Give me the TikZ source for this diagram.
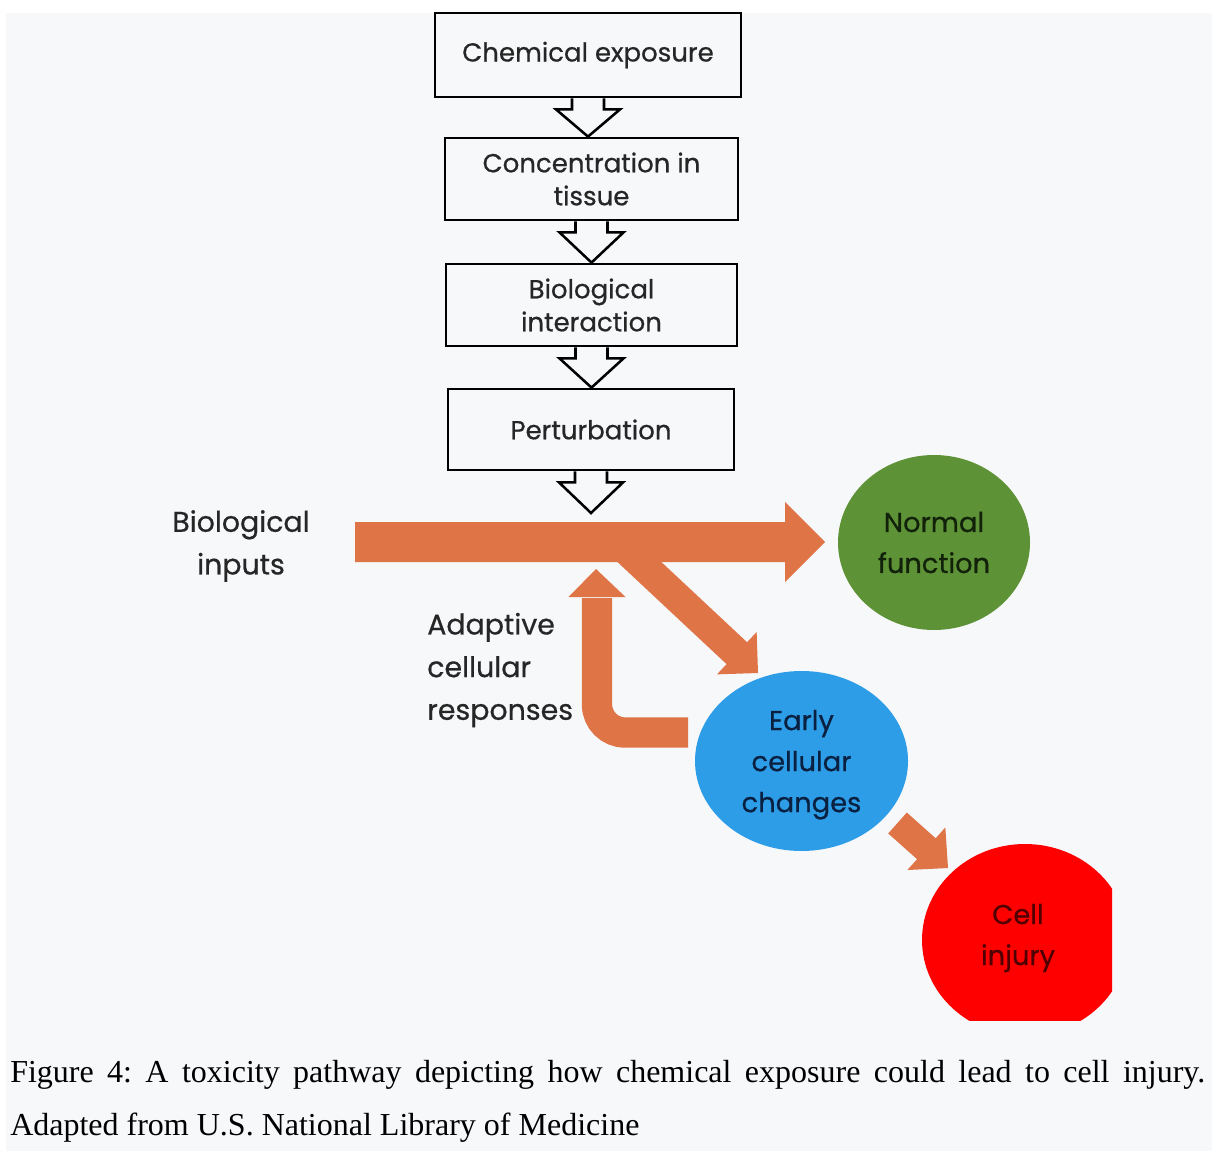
\documentclass[tikz,border=0pt]{standalone}
\usepackage{fontspec}
\newfontfamily\gothic[FakeBold=0.6]{Poppins}
\newfontfamily\capfont{Liberation Serif}
\usetikzlibrary{shapes.geometric,calc}
\definecolor{bg}{HTML}{F7F8FA}
\definecolor{orangeA}{RGB}{223,116,70}
\definecolor{greenN}{RGB}{94,146,55}
\definecolor{blueE}{RGB}{46,157,232}
\definecolor{redC}{RGB}{255,0,0}
\definecolor{txt}{RGB}{38,38,38}
\definecolor{gtxt}{RGB}{18,34,10}
\definecolor{btxt}{RGB}{10,32,64}
\definecolor{rtxt}{RGB}{80,0,0}
% #1 start, #2 tip, #3 half shaft, #4 head length, #5 half head
\newcommand\fatarrow[5]{%
  \path (#1) coordinate (fatS) (#2) coordinate (fatT);
  \path ($(fatT)!#4!(fatS)$) coordinate (fatH);
  \fill[orangeA] ($(fatS)!#3!90:(fatT)$) -- ($(fatH)!#3!-90:(fatS)$) -- ($(fatH)!#5!-90:(fatS)$) -- (fatT)
    -- ($(fatH)!#5!90:(fatS)$) -- ($(fatH)!#3!90:(fatS)$) -- ($(fatS)!#3!-90:(fatT)$) -- cycle;}
% hollow chevron arrow from box #1 down to point #2
\newcommand\hollowarr[2]{%
  \draw[hollow] ($(#1.south)+(-16,0)$) -- ++(0,11) -- ++(-16,0) -- (#1.south |- #2)
    -- ($(#1.south)+(32,11)$) -- ++(-16,0) -- ++(0,-11);}
\begin{document}
\begin{tikzpicture}[x=0.75pt,y=-0.75pt,
  stepbox/.style={draw=black, line width=2.1pt, minimum height=61.5pt, inner sep=0pt,
    align=center, font=\gothic\fontsize{19.5}{24.75}\selectfont, text=txt},
  hollow/.style={draw=black, line width=1.9pt, line join=miter},
  blob/.style={ellipse, inner sep=0pt, align=center, font=\gothic\fontsize{20.5}{30.75}\selectfont},
  lbl/.style={inner sep=0pt, font=\gothic\fontsize{21.3}{32}\selectfont, text=txt}]
\fill[white] (0,0) rectangle (1212,1151);
\fill[bg] (6,13) rectangle (1212,1151);
\useasboundingbox (0,0) rectangle (1212,1151);

% process boxes
\node[stepbox, minimum width=229.5pt, minimum height=63pt] (b1) at (588,55) {Chemical exposure};
\node[stepbox, minimum width=219.75pt] (b2) at (591.5,179) {Concentration in\\tissue};
\node[stepbox, minimum width=218.25pt] (b3) at (591.5,305) {Biological\\interaction};
\node[stepbox, minimum width=214.5pt, minimum height=60.75pt] (b4) at (591,429.5) {Perturbation};
\coordinate (flowtop) at (591,513);
\hollowarr{b1}{b2.north}
\hollowarr{b2}{b3.north}
\hollowarr{b3}{b4.north}
\hollowarr{b4}{flowtop}

% outcome ellipses
\node[blob, fill=greenN, text=gtxt, minimum width=144pt, minimum height=131.25pt] (normal) at (934,542.5) {Normal\\function};
\node[blob, fill=blueE, text=btxt, text depth=0pt, minimum width=159.75pt, minimum height=135pt] (early) at (801.5,761) {Early\\cellular\\changes};
\begin{scope}
  \clip (880,820) rectangle (1112,1020);
  \node[blob, fill=redC, minimum width=154.5pt, minimum height=144pt] (injury) at (1025,940) {};
\end{scope}
\node[blob, text=rtxt] (injurytext) at (1018,938) {Cell\\injury};

% labels
\node[lbl, align=center] (bioin) at (241,546) {Biological\\inputs};
\node[lbl, align=left, anchor=west] (adapt) at (427,670) {Adaptive\\cellular\\responses};

% orange arrows
\coordinate (mainS) at (355,542);
\coordinate (mainT) at (825,542);
\coordinate (splitS) at (618,542);
\coordinate (splitT) at (758,673);
\coordinate (smallS) at (897.5,823);
\coordinate (smallT) at (948,868);
\coordinate (uS) at (688,732.5);
\coordinate (uC) at (597,732.5);
\coordinate (uH) at (597,597);
\coordinate (uT) at (596,569);
\fatarrow{mainS}{mainT}{15pt}{30pt}{30pt}
\fatarrow{splitS}{splitT}{11.25pt}{21.75pt}{21.75pt}
\fatarrow{smallS}{smallT}{10.5pt}{21.75pt}{21.4pt}
\draw[orangeA, line width=22.75pt, rounded corners=21pt] (uS) -- (uC) -- ($(uH)+(0,1)$);
\fill[orangeA] ($(uH)+(-28.5,0)$) -- (uT) -- ($(uH)+(28.5,0)$) -- cycle;

% caption
\frenchspacing
\node[anchor=base west, inner sep=0pt] (cap1) at (10,1082)
  {\capfont\fontsize{24}{28}\selectfont\makebox[896.25pt][s]{Figure 4: A toxicity pathway depicting how chemical exposure could lead to cell injury.}};
\node[anchor=base west, inner sep=0pt] (cap2) at (10,1135)
  {\capfont\fontsize{24}{28}\selectfont Adapted from U.S. National Library of Medicine};
\end{tikzpicture}
\end{document}
